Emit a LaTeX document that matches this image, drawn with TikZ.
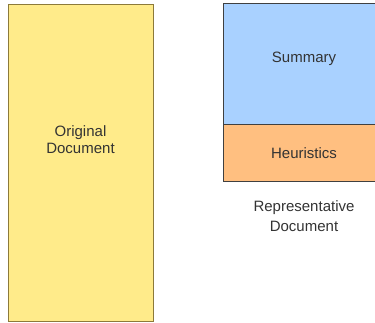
\documentclass[tikz,border=0pt]{standalone}
\usepackage{fontspec}
\setmainfont{Liberation Sans}
\usepackage{xcolor}
\usetikzlibrary{positioning}
\definecolor{docyellow}{HTML}{FFEB8A}
\definecolor{docborder}{HTML}{8C7A3A}
\definecolor{sumblue}{HTML}{A9D1FF}
\definecolor{heurorange}{HTML}{FFBF80}
\definecolor{txtgray}{HTML}{333333}

\begin{document}
\begin{tikzpicture}[
  x=1pt, y=1pt,
  docbox/.style={draw=docborder, fill=docyellow, line width=0.8pt, inner sep=0pt},
  partbox/.style={draw=black!75, line width=0.8pt, inner sep=0pt, minimum width=162pt},
  lbl/.style={font=\fontsize{15}{17}\selectfont, text=txtgray, align=center}]

  \useasboundingbox (0,0) rectangle (375,323);
  \clip (0,0) rectangle (375,323);

  \node[docbox, minimum width=145pt, minimum height=317pt] (orig) at (80.5,160.5) {};
  \node[lbl] (origtxt) at ([yshift=23pt]orig.center) {Original\\Document};

  \node[partbox, fill=sumblue, minimum height=121pt] (summary) at (304,259.5) {};
  \node[lbl] (sumtxt) at ([yshift=4.5pt]summary.center) {Summary};
  \node[partbox, fill=heurorange, minimum height=57pt, below=0pt of summary] (heur) {};
  \node[lbl] (heurtxt) at ([yshift=0.5pt]heur.center) {Heuristics};

  \node[lbl, font=\fontsize{15}{19.5}\selectfont] (repr) at ([yshift=-34pt]heur.south) {Representative\\Document};
\end{tikzpicture}
\end{document}
